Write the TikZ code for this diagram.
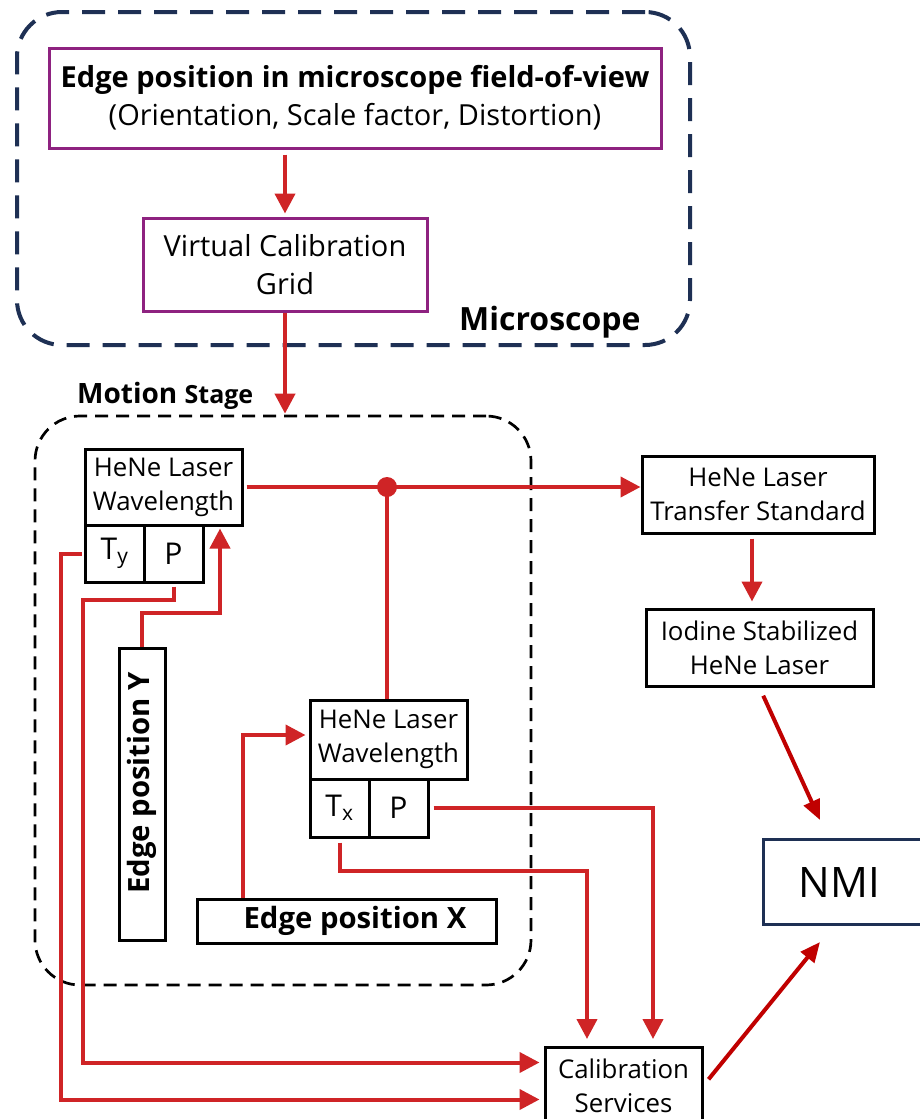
\documentclass[tikz,border=0pt]{standalone}
\usepackage{fontspec}
\setmainfont{Open Sans}
\usetikzlibrary{arrows.meta,calc}
\definecolor{lred}{RGB}{207,36,38}
\definecolor{dred}{RGB}{192,0,0}
\definecolor{purp}{RGB}{142,34,128}
\definecolor{navy}{RGB}{30,48,84}
\begin{document}
\begin{tikzpicture}[x=1pt,y=-1pt,
  box/.style={draw=black, line width=3pt, inner sep=0pt, align=center},
  pbox/.style={draw=purp, line width=3pt, inner sep=0pt, align=center},
  frame/.style={rounded corners=45pt, inner sep=0pt},
  conn/.style={draw=lred, line width=4pt},
  arr/.style={conn, -{Triangle[length=20pt,width=20pt]}},
  arrd/.style={draw=dred, line width=4pt, -{Triangle[length=20pt,width=17pt]}},
  smallfont/.style={font=\fontsize{25.8}{34}\selectfont},
  midfont/.style={font=\fontsize{25.8}{34}\selectfont},
  bigfont/.style={font=\fontsize{29}{38}\selectfont},
  subfont/.style={font=\fontsize{30}{34}\selectfont},
  boldfont/.style={font=\bfseries\fontsize{29.3}{34}\selectfont},
]
\fill[white] (0,0) rectangle (919,1119);
\useasboundingbox (0,0) rectangle (919,1119);

% frames
\node[frame, draw=navy, line width=4pt, dash pattern=on 23pt off 13pt,
      minimum width=673pt, minimum height=333pt] (micro) at (353.5,178.5) {};
\node[frame, draw=black, line width=2.7pt, dash pattern=on 13pt off 8pt,
      minimum width=496pt, minimum height=569pt] (stage) at (283,700.5) {};

% microscope part
\node[pbox, bigfont, minimum width=612pt, minimum height=100pt] (top) at (355,98)
  {{\bfseries Edge position in microscope field-of-view}\\(Orientation, Scale factor, Distortion)};
\node[pbox, bigfont, minimum width=284pt, minimum height=93pt] (vcg) at (285,264.5)
  {Virtual Calibration\\Grid};
\node[anchor=base west, inner sep=0pt, font=\bfseries\fontsize{32}{34}\selectfont] (mlab) at (459,330) {Microscope};
\node[anchor=base west, inner sep=0pt, font=\bfseries\fontsize{28}{30}\selectfont] (slab) at (77,403)
  {Motion {\fontsize{25}{30}\selectfont Stage}};

% stage Y
\node[box, smallfont, minimum width=157pt, minimum height=76pt] (hene1) at (163.5,487) {HeNe Laser\\Wavelength};
\node[box, subfont, minimum width=59pt, minimum height=57pt] (ty1) at (114.5,553.5) {T\textsubscript{y}};
\node[box, subfont, minimum width=59pt, minimum height=57pt] (p1) at (173.5,553.5) {P};
\node[box, boldfont, rotate=90, minimum width=292pt, minimum height=46pt] (edgeY) at (142,794)
  {\hspace*{22pt}Edge position Y};

% stage X
\node[box, smallfont, minimum width=157pt, minimum height=79pt] (hene2) at (388.5,739.5) {HeNe Laser\\Wavelength};
\node[box, subfont, minimum width=59pt, minimum height=58pt] (tx2) at (339.5,808) {T\textsubscript{x}};
\node[box, subfont, minimum width=59pt, minimum height=58pt] (p2) at (398.5,808) {P};
\node[box, boldfont, minimum width=299pt, minimum height=44pt] (edgeX) at (346.5,921)
  {\hspace*{17pt}Edge position X};

% right side
\node[box, midfont, minimum width=232pt, minimum height=77pt] (transfer) at (758,494.5) {HeNe Laser\\Transfer Standard};
\node[box, midfont, minimum width=227pt, minimum height=77pt] (iodine) at (759.5,647.5) {Iodine Stabilized\\HeNe Laser};
\node[box, midfont, anchor=north, minimum width=157pt, minimum height=76pt] (calib) at (623.5,1046) {Calibration\\Services};
\node[draw=navy, line width=3pt, inner sep=0pt, font=\fontsize{42}{44}\selectfont,
      anchor=north west, minimum width=180pt, minimum height=85pt] (nmi) at (762,838) {NMI\hspace*{28pt}};

% coordinates
\coordinate (j) at (387,487);
\coordinate (yc) at (220,613);
\coordinate (pc) at (83,600);
\coordinate (tyc) at (61,553.5);
\coordinate (xc) at (243,735);
\coordinate (tc) at (587,871);
\coordinate (cin1) at (587,1046);
\coordinate (cin2) at (653,1046);
\coordinate (n1) at (820,942);
\coordinate (n2) at (820,820);

% connectors
\draw[arr, shorten <=5pt, shorten >=3pt] (top.south -| vcg.north) -- (vcg.north);
\draw[arr, shorten >=1pt] (vcg.south) -- (vcg.south |- stage.north);
\draw[arr, shorten <=3pt] (hene1.east) -- (hene1.east -| transfer.west);
\draw[conn] (j) -- (j |- hene2.north);
\fill[lred] (j) circle[radius=10pt];
\draw[arr, shorten <=2pt, shorten >=4pt] (ty1.west) -- (tyc) |- ($(calib.west)+(0,14)$);
\draw[arr, shorten <=3pt, shorten >=4pt] (p1.south) |- (pc) |- ($(calib.west)+(0,-23)$);
\draw[arr, shorten >=2pt] (edgeY.east) |- (yc) -- (yc |- hene1.south);
\draw[arr, shorten >=3pt] (xc |- edgeX.north) -- (xc) -- (xc -| hene2.west);
\draw[arr, shorten <=4pt, shorten >=7pt] (p2.east) -| (cin2);
\draw[arr, shorten <=4pt, shorten >=7pt] (tx2.south) |- (tc) -- (cin1);
\draw[arr, shorten <=4pt, shorten >=6pt] ([xshift=-6pt]transfer.south) -- ([xshift=-6pt]transfer.south |- iodine.north);
\draw[arrd, shorten <=9pt] (iodine.south) -- (n2);
\draw[arrd, shorten <=8pt] (calib.east) -- (n1);
\end{tikzpicture}
\end{document}
